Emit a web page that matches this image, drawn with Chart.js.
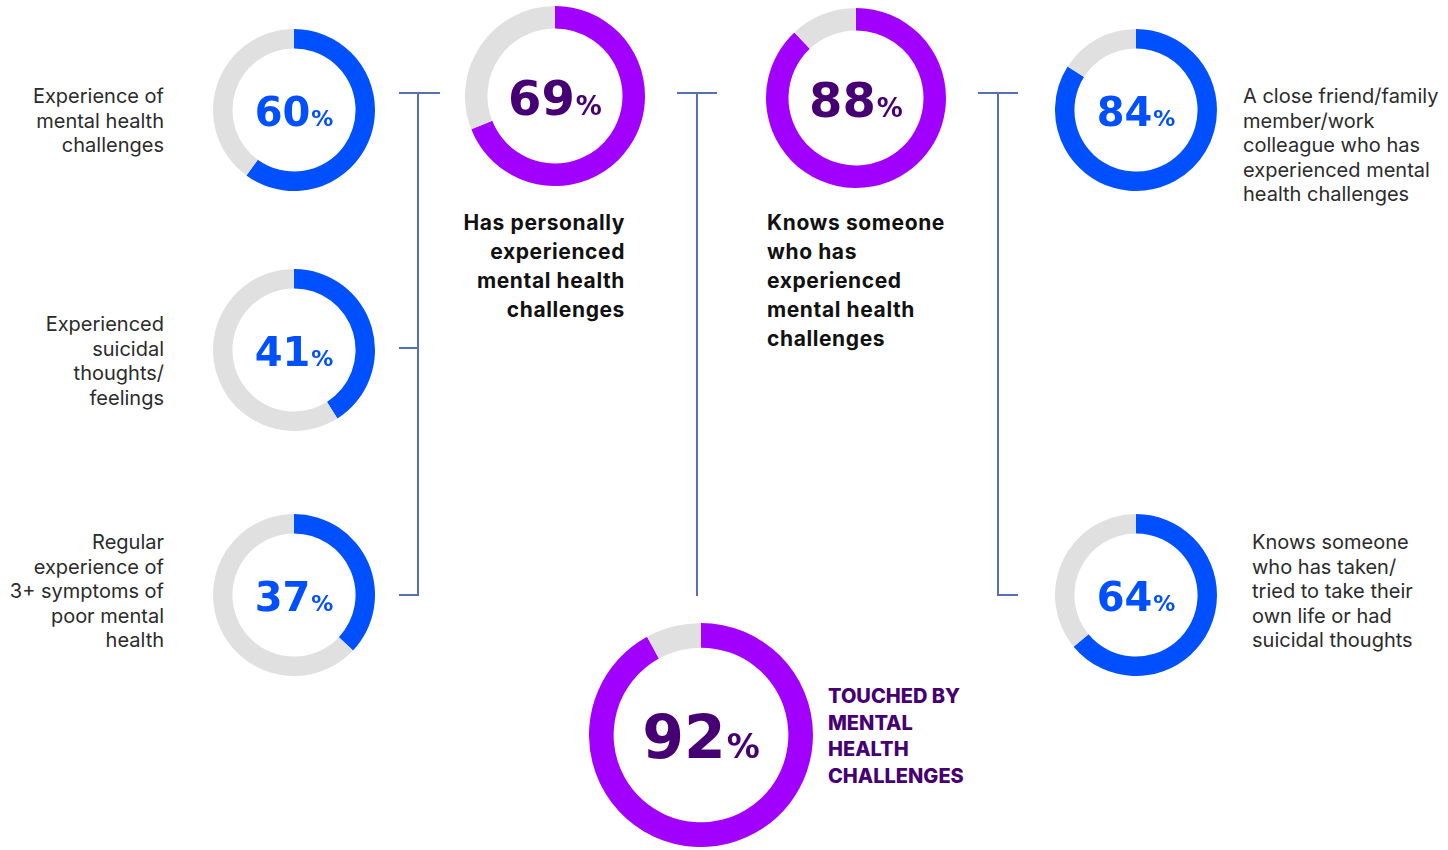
<!DOCTYPE html>
<html>
<head>
<meta charset="utf-8">
<script src="https://cdn.jsdelivr.net/npm/chart.js@4"></script>
<style>
  body { margin: 0; background: #fff; }
  #page { position: relative; width: 1448px; height: 850px; overflow: hidden; font-family: Inter, "Noto Sans", sans-serif; }
  .ring { position: absolute; }
  .lbl { position: absolute; font-size: 20px; line-height: 24.5px; color: #2b2b2b; white-space: nowrap; }
  .bold { font-weight: 700; font-size: 21px; line-height: 29px; color: #111; letter-spacing: 0.6px; }
  .caps { font-weight: 800; font-size: 20px; line-height: 26.7px; color: #460073; letter-spacing: 0; }
  .ln { position: absolute; background: #5670b3; }
</style>
</head>
<body>
<div id="page"></div>
<script>
// values, in percent
const names = [
  "Experience of mental health challenges",
  "Experienced suicidal thoughts/feelings",
  "Regular experience of 3+ symptoms of poor mental health",
  "Has personally experienced mental health challenges",
  "Knows someone who has experienced mental health challenges",
  "A close friend/family member/work colleague who has experienced mental health challenges",
  "Knows someone who has taken/tried to take their own life or had suicidal thoughts",
  "Touched by mental health challenges"
]
const values = [60, 41, 37, 69, 88, 84, 64, 92]
const labelLines = [
  ["Experience of", "mental health", "challenges"],
  ["Experienced", "suicidal", "thoughts/", "feelings"],
  ["Regular", "experience of", "3+ symptoms of", "poor mental", "health"],
  ["Has personally", "experienced", "mental health", "challenges"],
  ["Knows someone", "who has", "experienced", "mental health", "challenges"],
  ["A close friend/family", "member/work", "colleague who has", "experienced mental", "health challenges"],
  ["Knows someone", "who has taken/", "tried to take their", "own life or had", "suicidal thoughts"],
  ["TOUCHED BY", "MENTAL", "HEALTH", "CHALLENGES"]
]

// layout: ring centre, outer radius, cutout, colours, text size
const BLUE = "#0050ff", PURPLE = "#a100ff", DARK = "#460073", GREY = "#e0e0e0"
const rings = [
  { cx: 294, cy: 110, r: 81, cut: "76%", col: BLUE, txt: BLUE, fs: 40 },
  { cx: 294, cy: 350, r: 81, cut: "76%", col: BLUE, txt: BLUE, fs: 40 },
  { cx: 294, cy: 595, r: 81, cut: "76%", col: BLUE, txt: BLUE, fs: 40 },
  { cx: 555, cy: 96, r: 90, cut: "75%", col: PURPLE, txt: DARK, fs: 48 },
  { cx: 856, cy: 98, r: 90, cut: "75%", col: PURPLE, txt: DARK, fs: 48 },
  { cx: 1136, cy: 110, r: 81, cut: "76%", col: BLUE, txt: BLUE, fs: 40 },
  { cx: 1136, cy: 595, r: 81, cut: "76%", col: BLUE, txt: BLUE, fs: 40 },
  { cx: 701, cy: 735, r: 112, cut: "78%", col: PURPLE, txt: DARK, fs: 60 }
]
const labelPos = [
  { right: 164, top: 84, cls: "lbl" },
  { right: 164, top: 312, cls: "lbl" },
  { right: 164, top: 530, cls: "lbl" },
  { right: 625, top: 208, cls: "lbl bold" },
  { left: 767, top: 208, cls: "lbl bold" },
  { left: 1243, top: 84, cls: "lbl" },
  { left: 1252, top: 530, cls: "lbl" },
  { left: 828, top: 683, cls: "lbl caps" }
]

const page = document.getElementById("page")

const centerText = {
  id: "centerText",
  afterDraw(chart, args, opts) {
    const ctx = chart.ctx
    const { left, right, top, bottom } = chart.chartArea
    const x = (left + right) / 2
    const y = (top + bottom) / 2
    const num = String(chart.data.datasets[0].data[0])
    const small = Math.round(opts.size * 0.55)
    ctx.save()
    ctx.fillStyle = opts.color
    ctx.textBaseline = "alphabetic"
    ctx.font = `bold ${opts.size}px "DejaVu Sans"`
    const w1 = ctx.measureText(num).width
    ctx.font = `bold ${small}px "DejaVu Sans"`
    const w2 = ctx.measureText("%").width
    const start = x - (w1 + w2 + 1) / 2
    const base = y + opts.size * 0.39
    ctx.font = `bold ${opts.size}px "DejaVu Sans"`
    ctx.fillText(num, start, base)
    ctx.font = `bold ${small}px "DejaVu Sans"`
    ctx.fillText("%", start + w1 + 1, base)
    ctx.restore()
  }
}

function createRing(i) {
  const g = rings[i]
  const box = document.createElement("div")
  box.className = "ring"
  box.style.left = (g.cx - g.r) + "px"
  box.style.top = (g.cy - g.r) + "px"
  box.style.width = box.style.height = (2 * g.r) + "px"
  const cv = document.createElement("canvas")
  box.appendChild(cv)
  page.appendChild(box)

  new Chart(cv, {
    type: "doughnut",
    data: {
      labels: [names[i], "Other"],
      datasets: [{
        data: [values[i], 100 - values[i]],
        backgroundColor: [g.col, GREY],
        borderWidth: 0,
      }],
    },
    options: {
      responsive: true,
      maintainAspectRatio: false,
      animation: false,
      cutout: g.cut,
      layout: { padding: 0 },
      plugins: {
        legend: false,
        tooltip: { enabled: false },
        centerText: { color: g.txt, size: g.fs },
      },
    },
    plugins: [centerText],
  })
}

function createLabel(i) {
  const p = labelPos[i]
  const d = document.createElement("div")
  d.className = p.cls
  d.style.top = p.top + "px"
  if (p.right !== undefined) {
    d.style.right = (1448 - p.right) + "px"
    d.style.textAlign = "right"
  } else {
    d.style.left = p.left + "px"
  }
  d.innerHTML = labelLines[i].join("<br>")
  page.appendChild(d)
}

function line(x, y, w, h) {
  const d = document.createElement("div")
  d.className = "ln"
  Object.assign(d.style, { left: x + "px", top: y + "px", width: w + "px", height: h + "px" })
  page.appendChild(d)
}

document.addEventListener("DOMContentLoaded", () => {
  values.forEach((v, i) => { createRing(i); createLabel(i) })
  // connector brackets
  line(399, 92, 41, 2); line(417, 92, 2, 504); line(399, 347, 19, 2); line(399, 594, 19, 2)
  line(677, 92, 40, 2); line(696, 92, 2, 504)
  line(978, 92, 40, 2); line(997, 92, 2, 504); line(997, 594, 21, 2)
})
</script>
</body>
</html>
